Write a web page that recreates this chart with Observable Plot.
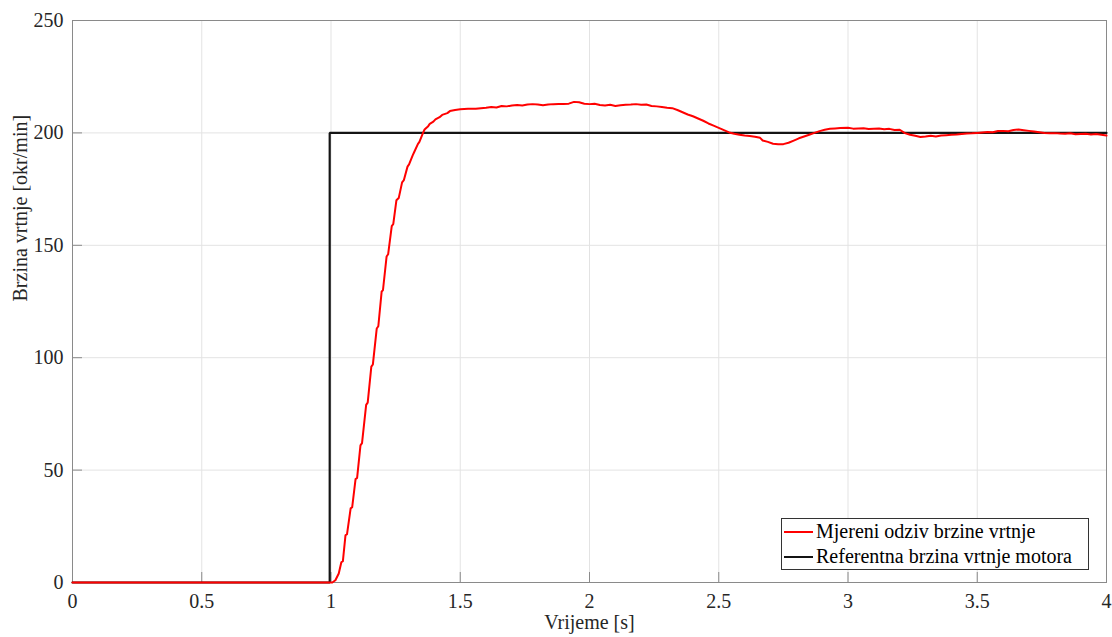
<!DOCTYPE html>
<html>
<head>
<meta charset="utf-8">
<script src="https://cdn.jsdelivr.net/npm/d3@7"></script>
<script src="https://cdn.jsdelivr.net/npm/@observablehq/plot@0.6"></script>
<style>
  html, body { margin: 0; padding: 0; background: #fff; }
  #wrap { position: relative; width: 1112px; height: 637px; font-family: 'Liberation Serif', 'DejaVu Serif', serif; }
  #wrap svg text { font-family: 'Liberation Serif', 'DejaVu Serif', serif !important; }
  #legend { position: absolute; left: 781px; top: 518px; width: 306px; height: 50px; border: 1px solid #333; background: #fff; font-size: 20px; color: #000; }
  #legend .row { display: flex; align-items: center; height: 25px; line-height: 25px; white-space: nowrap; }
  #legend .sw { width: 29px; height: 2px; margin-left: 2px; margin-right: 3px; }
</style>
</head>
<body>
<div id="wrap"></div>
<script>
// Measured response (time [s], speed [okr/min])
const measuredT = [0, 0.998, 1.005, 1.017, 1.030, 1.040, 1.046, 1.056, 1.062, 1.076, 1.082, 1.095, 1.101, 1.114, 1.120, 1.136, 1.142, 1.156, 1.162, 1.177, 1.183, 1.196, 1.201, 1.215, 1.221, 1.235, 1.241, 1.253, 1.262, 1.275, 1.282, 1.296, 1.302, 1.316, 1.322, 1.336, 1.342, 1.356, 1.362, 1.376, 1.382, 1.396, 1.404, 1.420, 1.430, 1.450, 1.460, 1.480, 1.500, 1.53, 1.56, 1.58, 1.60, 1.62, 1.64, 1.66, 1.68, 1.70, 1.72, 1.74, 1.76, 1.78, 1.80, 1.82, 1.84, 1.86, 1.88, 1.90, 1.92, 1.94, 1.96, 1.98, 2.00, 2.02, 2.04, 2.06, 2.08, 2.10, 2.12, 2.14, 2.16, 2.18, 2.20, 2.22, 2.24, 2.26, 2.28, 2.30, 2.32, 2.34, 2.36, 2.38, 2.40, 2.42, 2.44, 2.46, 2.48, 2.50, 2.52, 2.54, 2.56, 2.58, 2.60, 2.62, 2.64, 2.66, 2.67, 2.69, 2.71, 2.73, 2.75, 2.77, 2.79, 2.81, 2.83, 2.85, 2.87, 2.89, 2.91, 2.93, 2.95, 2.97, 3.00, 3.02, 3.04, 3.06, 3.08, 3.10, 3.12, 3.14, 3.16, 3.18, 3.20, 3.22, 3.24, 3.26, 3.28, 3.30, 3.32, 3.34, 3.36, 3.38, 3.40, 3.42, 3.44, 3.46, 3.48, 3.50, 3.52, 3.54, 3.56, 3.58, 3.60, 3.62, 3.64, 3.66, 3.68, 3.70, 3.72, 3.74, 3.76, 3.78, 3.80, 3.82, 3.84, 3.86, 3.88, 3.90, 3.92, 3.94, 3.96, 3.98, 4.00];
const measuredV = [0, 0, 0, 1, 4, 9, 9.5, 21, 21.5, 33, 33.5, 46, 46.5, 61, 62, 79, 80, 96, 97, 113, 114, 129.5, 130, 145, 146, 158.5, 159.5, 170, 171, 178, 179, 185, 186, 190, 191.5, 195, 196, 200, 201.5, 203, 204, 205, 206, 207, 208, 208.8, 209.7, 210.2, 210.5, 210.7, 210.7, 211, 211.2, 211.5, 211.3, 212, 211.8, 212.2, 212.4, 212.2, 212.6, 212.8, 212.6, 212.3, 212.6, 212.8, 212.9, 212.9, 213, 213.8, 213.6, 213, 212.8, 213, 212.4, 212.2, 212.5, 212, 212.3, 212.5, 212.6, 212.8, 212.5, 212.6, 212, 211.8, 211.5, 211.2, 211, 210.2, 209.2, 208.2, 207.4, 206.4, 205.4, 204.2, 203.2, 202.2, 201.2, 200.2, 199.6, 199.2, 198.8, 198.6, 198.3, 197.8, 196.6, 196, 195.2, 194.9, 195, 195.6, 196.6, 197.6, 198.4, 199.2, 200, 200.8, 201.4, 201.8, 202, 202.2, 202.3, 201.9, 202, 202.1, 201.7, 201.9, 202, 201.6, 201.8, 201.3, 201.4, 199.9, 199.2, 198.7, 198.2, 198.4, 198.7, 198.4, 198.8, 199, 199.2, 199.3, 199.5, 199.7, 199.8, 200, 200.2, 200.4, 200.3, 200.8, 200.9, 200.7, 201.3, 201.5, 201.2, 200.9, 200.6, 200.3, 200, 199.8, 199.9, 199.7, 199.6, 199.8, 199.4, 199.5, 199.6, 199.3, 199.5, 199.2, 198.8];

// Reference speed (step)
const referenceT = [0, 0.995, 0.995, 4];
const referenceV = [0, 0, 200, 200];

const xTicks = [0, 0.5, 1, 1.5, 2, 2.5, 3, 3.5, 4];
const xTickLabels = ["0", "0.5", "1", "1.5", "2", "2.5", "3", "3.5", "4"];
const yTicks = [0, 50, 100, 150, 200, 250];
const yTickLabels = ["0", "50", "100", "150", "200", "250"];

const seriesNames = ["Mjereni odziv brzine vrtnje", "Referentna brzina vrtnje motora"];
const xLabel = "Vrijeme [s]";
const yLabel = "Brzina vrtnje [okr/min]";

const measured = measuredT.map((t, i) => ({t, v: measuredV[i]}));
const reference = referenceT.map((t, i) => ({t, v: referenceV[i]}));

const FONT = "'Liberation Serif', 'DejaVu Serif', serif";
const W = 1112, H = 637;
const mL = 72, mR = 6, mT = 20, mB = 55;
const tickPx = 10;
const xTickLen = tickPx * 4 / (W - mL - mR);
const yTickLen = tickPx * 250 / (H - mT - mB);

const chart = Plot.plot({
  width: W,
  height: H,
  marginLeft: mL,
  marginRight: mR,
  marginTop: mT,
  marginBottom: mB,
  style: {fontFamily: FONT, fontSize: "20px", color: "#262626", background: "#fff"},
  x: {domain: [0, 4]},
  y: {domain: [0, 250]},
  marks: [
    Plot.gridX(xTicks, {stroke: "#e3e3e3", strokeOpacity: 1, strokeWidth: 1}),
    Plot.gridY(yTicks, {stroke: "#e3e3e3", strokeOpacity: 1, strokeWidth: 1}),
    Plot.ruleX(xTicks, {x: d => d, y1: 0, y2: yTickLen, stroke: "#8a8a8a"}),
    Plot.ruleY(yTicks, {y: d => d, x1: 0, x2: xTickLen, stroke: "#8a8a8a"}),
    Plot.frame({stroke: "#8a8a8a", strokeWidth: 1}),
    Plot.axisX(xTicks, {tickSize: 0, tickPadding: 11, tickFormat: (d, i) => xTickLabels[i], label: null, fill: "#262626", fontFamily: FONT}),
    Plot.axisY(yTicks, {tickSize: 0, tickPadding: 9, tickFormat: (d, i) => yTickLabels[i], label: null, fill: "#262626", fontFamily: FONT}),
    Plot.line(reference, {x: "t", y: "v", stroke: "#141414", strokeWidth: 2.2, strokeLinejoin: "miter"}),
    Plot.line(measured, {x: "t", y: "v", stroke: "#ff0000", strokeWidth: 2}),
    Plot.text([xLabel], {frameAnchor: "bottom", dy: 46, fontSize: 20, fill: "#262626", fontFamily: FONT}),
    Plot.text([yLabel], {frameAnchor: "left", dx: -52, rotate: -90, fontSize: 20, fill: "#262626", fontFamily: FONT})
  ]
});

const wrap = document.getElementById("wrap");
wrap.appendChild(chart);

const legend = document.createElement("div");
legend.id = "legend";
const colors = ["#ff0000", "#141414"];
seriesNames.forEach((name, i) => {
  const row = document.createElement("div");
  row.className = "row";
  const sw = document.createElement("span");
  sw.className = "sw";
  sw.style.background = colors[i];
  const tx = document.createElement("span");
  tx.textContent = name;
  row.appendChild(sw);
  row.appendChild(tx);
  legend.appendChild(row);
});
wrap.appendChild(legend);
</script>
</body>
</html>
